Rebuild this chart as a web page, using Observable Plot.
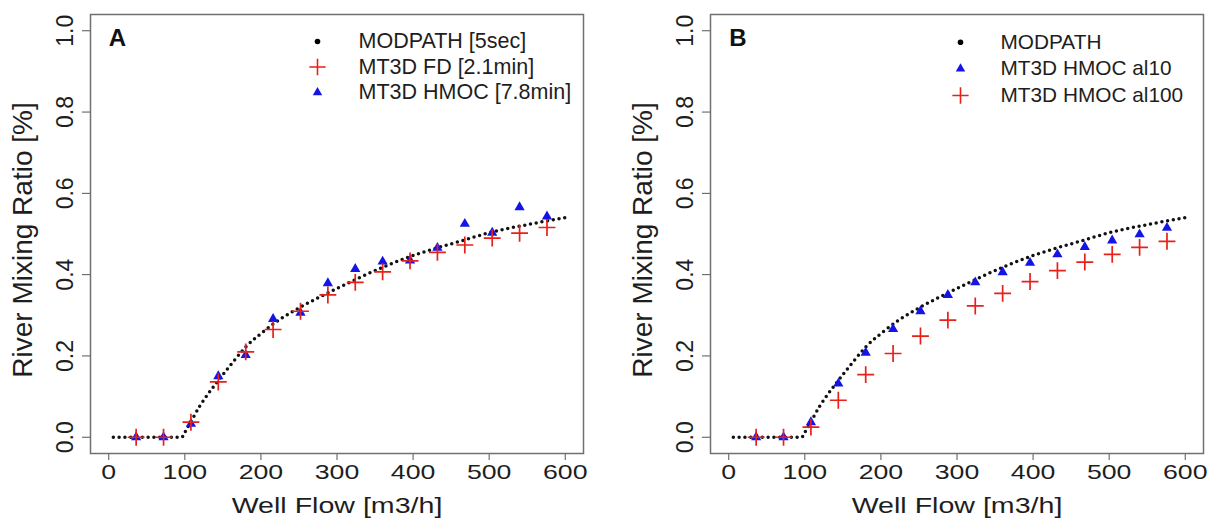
<!DOCTYPE html>
<html><head><meta charset="utf-8">
<script src="https://cdn.jsdelivr.net/npm/d3@7"></script>
<script src="https://cdn.jsdelivr.net/npm/@observablehq/plot@0.6"></script>
<style>
html,body{margin:0;padding:0;background:#fff;}
#wrap{display:flex;width:1211px;height:524px;overflow:hidden;}
svg{display:block;flex:none;}
</style></head><body><div id="wrap"></div>
<script>
// ---- data ----
const flow = [36,72,108,144,180,216,252,288,324,360,396,432,468,504,540,576];
const mt3dFD_A   = [0,0,0.037,0.136,0.210,0.265,0.310,0.350,0.381,0.407,0.434,0.455,0.473,0.490,0.502,0.516];
const mt3dHMOC_A = [0,0,0.033,0.150,0.202,0.291,0.306,0.379,0.414,0.432,0.435,0.466,0.525,0.503,0.566,0.543];
const hmocAl10_B  = [0,0,0.037,0.132,0.208,0.266,0.310,0.350,0.381,0.406,0.429,0.450,0.468,0.484,0.499,0.515];
const hmocAl100_B = [0,0,0.025,0.091,0.154,0.206,0.249,0.288,0.323,0.354,0.383,0.410,0.431,0.450,0.467,0.482];
const modpathFlow  = [6,96,100,110,120,130,140,150,165,180,200,225,250,275,300,330,360,400,430,460,500,550,600];
const modpathRatio = [0,0,0.012,0.045,0.078,0.105,0.130,0.154,0.189,0.222,0.255,0.290,0.318,0.343,0.366,0.393,0.418,0.447,0.465,0.481,0.503,0.523,0.540];
const xTicks = [0,100,200,300,400,500,600];
const yTicks = [0,0.2,0.4,0.6,0.8,1.0];
const legendA = ["MODPATH [5sec]","MT3D FD [2.1min]","MT3D HMOC [7.8min]"];
const legendB = ["MODPATH","MT3D HMOC al10","MT3D HMOC al100"];
const xLabel = "Well Flow [m3/h]";
const yLabel = "River Mixing Ratio [%]";

const RED = "#e8201a", BLUE = "#1414e6", INK = "#1e1e1e";
const modpath = modpathFlow.map((x,i)=>({x, y: modpathRatio[i]}));

function legendRow(symbolKind, label, dxSym, dxText, dy, fs) {
  const marks = [];
  if (symbolKind === "dot") marks.push(Plot.dot([label], {frameAnchor:"top-left", dx:dxSym, dy, r:2.8, fill:"#000", stroke:"none"}));
  if (symbolKind === "triangle") marks.push(Plot.dot([label], {frameAnchor:"top-left", dx:dxSym, dy, symbol:"triangle", r:3.5, fill:BLUE, stroke:"none"}));
  if (symbolKind === "plus") marks.push(Plot.dot([label], {frameAnchor:"top-left", dx:dxSym, dy, symbol:"plus", r:5.3, stroke:RED, strokeWidth:1.6}));
  marks.push(Plot.text([label], {frameAnchor:"top-left", dx:dxText, dy, text:d=>d, textAnchor:"start", lineAnchor:"middle", fontSize:fs, fill:INK}));
  return marks;
}

function panel({width, marginLeft, marginRight, letter, letterDx, tri, plus, legend, legendOrder, legendDx, legendDy, legendFs}) {
  const rowsTri = flow.map((x,i)=>({x, y: tri[i]}));
  const rowsPlus = flow.map((x,i)=>({x, y: plus[i]}));
  const legendMarks = legend.flatMap((lab,i)=>legendRow(legendOrder[i], lab, legendDx[0], legendDx[1], legendDy[i], legendFs));
  const svg = Plot.plot({
    width, height:524, marginTop:14, marginBottom:71, marginLeft, marginRight,
    style:{fontFamily:"'Liberation Sans', Arial, Helvetica, sans-serif", color:INK, background:"#fff", overflow:"visible"},
    x:{domain:[-24,624]},
    y:{domain:[-0.04,1.04]},
    marks:[
      Plot.axisX(xTicks, {tickSize:7, tickPadding:4, fontSize:21, stroke:"#555", fill:INK, label:null, tickFormat:d=>String(d)}),
      Plot.axisY(yTicks, {tickSize:8, tickPadding:10, tickRotate:-90, textAnchor:"middle", lineAnchor:"bottom", fontSize:23, stroke:"#555", fill:INK, label:null, tickFormat:d3.format(".1f")}),
      Plot.text([xLabel], {frameAnchor:"bottom", dy:52, text:d=>d, fontSize:22, textAnchor:"middle", lineAnchor:"middle", fill:INK}),
      Plot.text([yLabel], {frameAnchor:"left", dx:-67, dy:6, rotate:-90, text:d=>d, fontSize:28, textAnchor:"middle", lineAnchor:"middle", fill:INK}),
      Plot.line(modpath, {x:"x", y:"y", curve:"monotone-x", stroke:"#111", strokeWidth:3.5, strokeDasharray:"0 5.8", strokeLinecap:"round"}),
      Plot.dot(rowsTri, {x:"x", y:"y", symbol:"triangle", r:3.8, fill:BLUE, stroke:"none"}),
      Plot.dot(rowsPlus, {x:"x", y:"y", symbol:"plus", r:5.5, stroke:RED, strokeWidth:1.7}),
      Plot.text([letter], {frameAnchor:"top-left", dx:letterDx, dy:24, text:d=>d, fontSize:24, fontWeight:"bold", textAnchor:"middle", lineAnchor:"middle", fill:"#111"}),
      ...legendMarks,
      Plot.frame({stroke:"#707070", strokeWidth:1.5})
    ]
  });
  const tickStrings = new Set(xTicks.map(String));
  svg.querySelectorAll("text").forEach(t=>{
    const s = t.textContent;
    let sx = null;
    if (tickStrings.has(s)) sx = 1.27;
    else if (s === xLabel) sx = 1.3;
    if (sx) t.setAttribute("transform", (t.getAttribute("transform")||"") + ` scale(${sx},1)`);
  });
  return svg;
}

const wrap = document.getElementById("wrap");
wrap.appendChild(panel({width:605, marginLeft:90, marginRight:22, letter:"A", letterDx:27,
  tri:mt3dHMOC_A, plus:mt3dFD_A, legend:legendA, legendOrder:["dot","plus","triangle"],
  legendDx:[227,268], legendDy:[27,52.5,78], legendFs:21.5}));
wrap.appendChild(panel({width:606, marginLeft:105, marginRight:8, letter:"B", letterDx:27.5,
  tri:hmocAl10_B, plus:hmocAl100_B, legend:legendB, legendOrder:["dot","triangle","plus"],
  legendDx:[250,290], legendDy:[27.7,54.3,81], legendFs:20.8}));
</script></body></html>
